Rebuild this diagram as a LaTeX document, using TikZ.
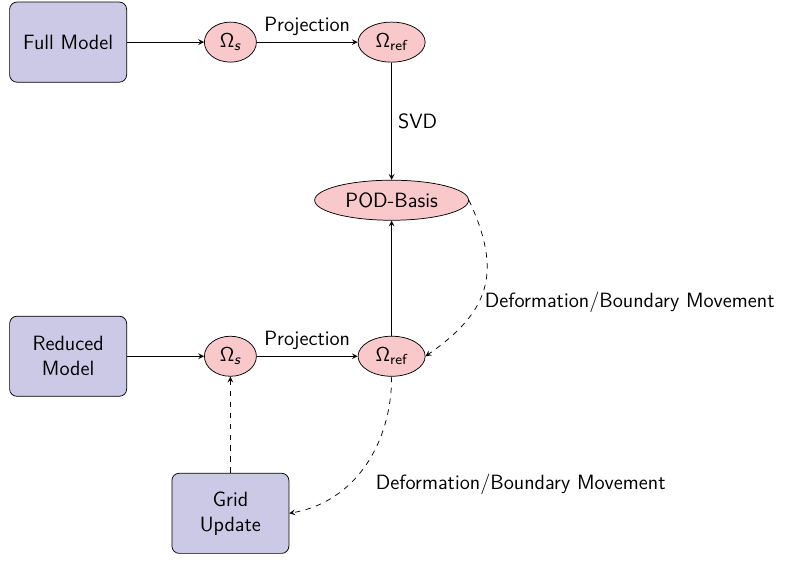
\documentclass[tikz,border=0pt]{standalone}
\usepackage{amsmath}
\usetikzlibrary{arrows.meta, positioning, shapes.geometric}
\definecolor{modelcol}{RGB}{204,201,230}
\definecolor{spacecol}{RGB}{248,200,202}
\newcommand{\Oms}{$\mathsf{\Omega}_{\textit{s}}$}
\newcommand{\Omref}{$\mathsf{\Omega}_{\textsf{ref}}$}

\begin{document}
\begin{tikzpicture}[node distance=3cm and 3.1cm, on grid, auto,
	font=\sffamily\fontsize{11.3}{13.6}\selectfont,
	model/.style={rectangle, draw, rounded corners, minimum height=1.54cm, minimum width=2.25cm, fill=modelcol, align=center},
	space/.style={ellipse, draw, fill=spacecol, minimum height=0.77cm, minimum width=1cm, inner sep=1pt},
	->, >=stealth]

\useasboundingbox (-1.31,0.81) rectangle (13.88,-9.96);

% Nodes
\node[model] (full) at (0,0) {Full Model};
\node[space, right=3.12cm of full] (os1) {\Oms};
\node[space, right=of os1, minimum width=1.29cm] (oref1) {\Omref};
\node[space, below=3.04cm of oref1, minimum width=2.96cm] (pod) {POD-Basis};
\node[space, below=of pod, minimum width=1.29cm] (oref2) {\Omref};
\node[space, left=of oref2] (os2) {\Oms};
\node[model, left=3.12cm of os2] (reduced) {Reduced\\Model};
\node[model, below=3.02cm of os2] (grid) {Grid\\Update};

% Transitions
\draw (full) -- (os1);
\draw (os1) -- node {Projection} (oref1);
\draw (oref1) -- node {SVD} (pod);
\draw (oref2) -- (pod);
\draw (reduced) -- (os2);
\draw (os2) -- node {Projection} (oref2);
\draw[dashed] (grid) -- (os2);
\draw[dashed] (pod.east) to[out=-65, in=35, looseness=1.25] node[pos=0.6, right] {Deformation/Boundary Movement} (oref2.east);
\draw[dashed] (oref2.south) to[out=-90, in=10] node[pos=0.64, right, xshift=0.4cm] {Deformation/Boundary Movement} (grid.east);
\end{tikzpicture}
\end{document}
